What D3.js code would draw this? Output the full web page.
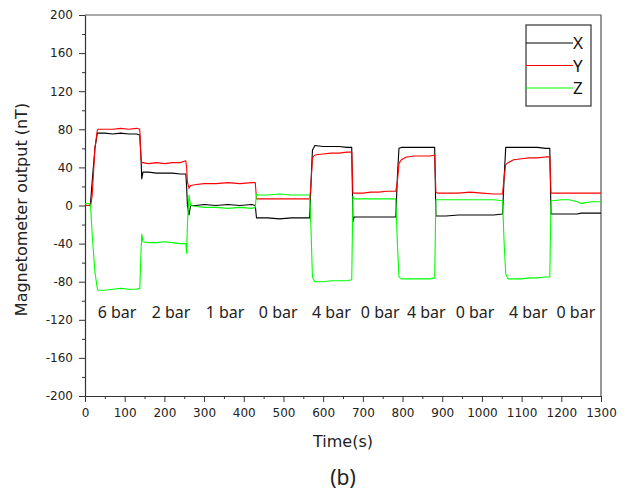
<!DOCTYPE html>
<html>
<head>
<meta charset="UTF-8">
<title>Magnetometer output</title>
<script src="https://d3js.org/d3.v7.min.js"></script>
<style>
  body { margin: 0; background: #fff; }
  svg text { font-family: 'DejaVu Sans', sans-serif; }
</style>
</head>
<body>
<div id="chart"></div>
<script>
// time (s) and the three magnetometer components (nT)
const time = [0, 12, 14, 18, 25, 31, 33, 50, 70, 90, 110, 130, 138, 141, 143, 146, 160, 180, 200, 220, 240, 254, 256, 258, 262, 266, 280, 300, 330, 360, 390, 420, 429, 432, 436, 460, 490, 520, 550, 566, 569, 573, 579, 600, 620, 640, 660, 672, 675, 678, 700, 720, 740, 760, 783, 787, 791, 797, 810, 830, 850, 870, 881, 884, 888, 910, 940, 970, 1000, 1030, 1052, 1056, 1060, 1066, 1080, 1100, 1120, 1140, 1160, 1171, 1174, 1178, 1200, 1220, 1240, 1250, 1260, 1280, 1300];
const xOut = [0, 0, 3, 25, 60, 76, 76, 76, 75, 76, 75, 75, 74, 50, 28, 35, 35, 34, 34, 34, 33, 33, 20, 0, -10, 0, 0, 1, 0, 1, 0, 1, 0, -13, -13, -13, -14, -13, -13, -13, 20, 58, 63, 62, 62, 62, 61, 61, -17, -12, -12, -12, -12, -12, -12, 30, 60, 61, 61, 61, 61, 61, 61, -11, -11, -11, -10, -10, -10, -10, -9, 30, 61, 61, 61, 61, 61, 61, 60, 60, -9, -9, -9, -9, -9, -8, -8, -8, -8];
const yOut = [0, 0, -1, 10, 60, 79, 80, 80, 80, 81, 80, 81, 80, 50, 45, 45, 44, 45, 44, 45, 45, 47, 40, 25, 18, 21, 22, 23, 23, 24, 23, 24, 24, 7, 7, 7, 7, 7, 7, 7, 20, 50, 53, 54, 55, 55, 56, 56, 13, 13, 13, 14, 14, 15, 15, 25, 44, 48, 51, 52, 52, 52, 53, 14, 13, 13, 13, 14, 13, 12, 12, 30, 43, 45, 48, 49, 50, 50, 51, 51, 13, 13, 13, 13, 13, 13, 13, 13, 13];
const zOut = [2, 2, 0, -30, -70, -87, -89, -89, -88, -87, -88, -88, -87, -50, -30, -38, -39, -39, -38, -39, -40, -40, -50, -20, 11, 0, -1, -2, -2, -3, -2, -3, -2, 12, 11, 11, 12, 11, 11, 11, -20, -75, -80, -80, -79, -79, -79, -78, 10, 7, 7, 7, 7, 7, 7, -40, -75, -77, -77, -77, -77, -77, -76, 6, 6, 6, 6, 6, 6, 6, 5, -40, -72, -77, -77, -77, -76, -76, -75, -75, 5, 5, 6, 6, 4, 2, 3, 4, 4];

const seriesNames = ["X", "Y", "Z"];
const seriesColors = ["#000000", "#ff0000", "#00ff00"];

// pressure labels and where they sit along the time axis
const barLabels = ["6 bar", "2 bar", "1 bar", "0 bar", "4 bar", "0 bar", "4 bar", "0 bar", "4 bar", "0 bar"];
const barLabelTimes = [32, 168, 304, 438, 572, 695, 811, 934, 1068, 1188];
const barLabelLevel = -118;

const xTicks = d3.range(0, 1301, 100);
const yTicks = d3.range(-200, 201, 40);

const W = 629, H = 494;
const margin = { top: 15, right: 28, bottom: 98, left: 85 };
const width = W - margin.left - margin.right;
const height = H - margin.top - margin.bottom;

const svg = d3.select("#chart").append("svg")
  .attr("width", W).attr("height", H);
const g = svg.append("g")
  .attr("transform", `translate(${margin.left},${margin.top})`);

const x = d3.scaleLinear().domain([0, 1300]).range([0, width]);
const y = d3.scaleLinear().domain([-200, 200]).range([height, 0]);
const plain = d => String(d);

// frame (top and right)
g.append("path")
  .attr("d", `M0,0H${width}V${height}`)
  .attr("fill", "none").attr("stroke", "#555").attr("stroke-width", 1.2);

// minor ticks
g.append("g")
  .attr("transform", `translate(0,${height})`)
  .call(d3.axisBottom(x).tickValues(d3.range(50, 1300, 100)).tickSize(3).tickFormat(""))
  .call(a => a.select(".domain").remove())
  .selectAll("line").attr("stroke", "#333");
g.append("g")
  .call(d3.axisLeft(y).tickValues(d3.range(-180, 200, 40)).tickSize(3).tickFormat(""))
  .call(a => a.select(".domain").remove())
  .selectAll("line").attr("stroke", "#333");

// major axes
const xAxis = g.append("g")
  .attr("transform", `translate(0,${height})`)
  .call(d3.axisBottom(x).tickValues(xTicks).tickFormat(plain).tickSize(6).tickSizeOuter(0).tickPadding(6));
const yAxis = g.append("g")
  .call(d3.axisLeft(y).tickValues(yTicks).tickFormat(plain).tickSize(6).tickSizeOuter(0).tickPadding(6));
[xAxis, yAxis].forEach(a => {
  a.select(".domain").attr("stroke", "#333").attr("stroke-width", 1.2);
  a.selectAll("line").attr("stroke", "#333");
  a.selectAll("text")
    .attr("fill", "#222")
    .style("font-size", "12px")
    .style("font-family", "'DejaVu Sans', sans-serif");
});

// curves
const line = d3.line()
  .x((d, i) => x(time[i]))
  .y(d => y(d));
[xOut, yOut, zOut].forEach((vals, k) => {
  g.append("path")
    .datum(vals)
    .attr("fill", "none")
    .attr("stroke", seriesColors[k])
    .attr("stroke-width", 1.1)
    .attr("stroke-linejoin", "round")
    .attr("d", line);
});

// pressure annotations
g.selectAll("text.bar")
  .data(barLabels)
  .enter().append("text")
  .attr("class", "bar")
  .attr("x", (d, i) => x(barLabelTimes[i]))
  .attr("y", y(barLabelLevel))
  .attr("fill", "#222")
  .style("font-family", "'Noto Sans', 'DejaVu Sans', sans-serif")
  .style("font-size", "16px")
  .text(d => d);

// legend
const legend = g.append("g").attr("transform", `translate(${width - 75},10)`);
legend.append("rect")
  .attr("width", 65).attr("height", 81)
  .attr("fill", "#fff").attr("stroke", "#333").attr("stroke-width", 1.2);
seriesNames.forEach((name, k) => {
  const ly = 18 + k * 22.5;
  legend.append("line")
    .attr("x1", 0).attr("x2", 47).attr("y1", ly).attr("y2", ly)
    .attr("stroke", seriesColors[k]).attr("stroke-width", 1.1);
  legend.append("text")
    .attr("x", 47).attr("y", ly + 6)
    .attr("fill", "#111")
    .style("font-family", "'Noto Sans', 'DejaVu Sans', sans-serif")
    .style("font-size", "17px")
    .text(name);
});

// axis titles
svg.append("text")
  .attr("transform", `translate(27,${margin.top + height / 2 + 4}) rotate(-90)`)
  .attr("text-anchor", "middle")
  .attr("fill", "#222")
  .style("font-size", "16px")
  .text("Magnetometer output (nT)");
svg.append("text")
  .attr("x", margin.left + width / 2)
  .attr("y", 447)
  .attr("text-anchor", "middle")
  .attr("fill", "#222")
  .style("font-size", "16px")
  .text("Time(s)");
svg.append("text")
  .attr("x", margin.left + width / 2)
  .attr("y", 485)
  .attr("text-anchor", "middle")
  .attr("fill", "#222")
  .style("font-family", "'Noto Sans', 'DejaVu Sans', sans-serif")
  .style("font-size", "21px")
  .text("(b)");
</script>
</body>
</html>
